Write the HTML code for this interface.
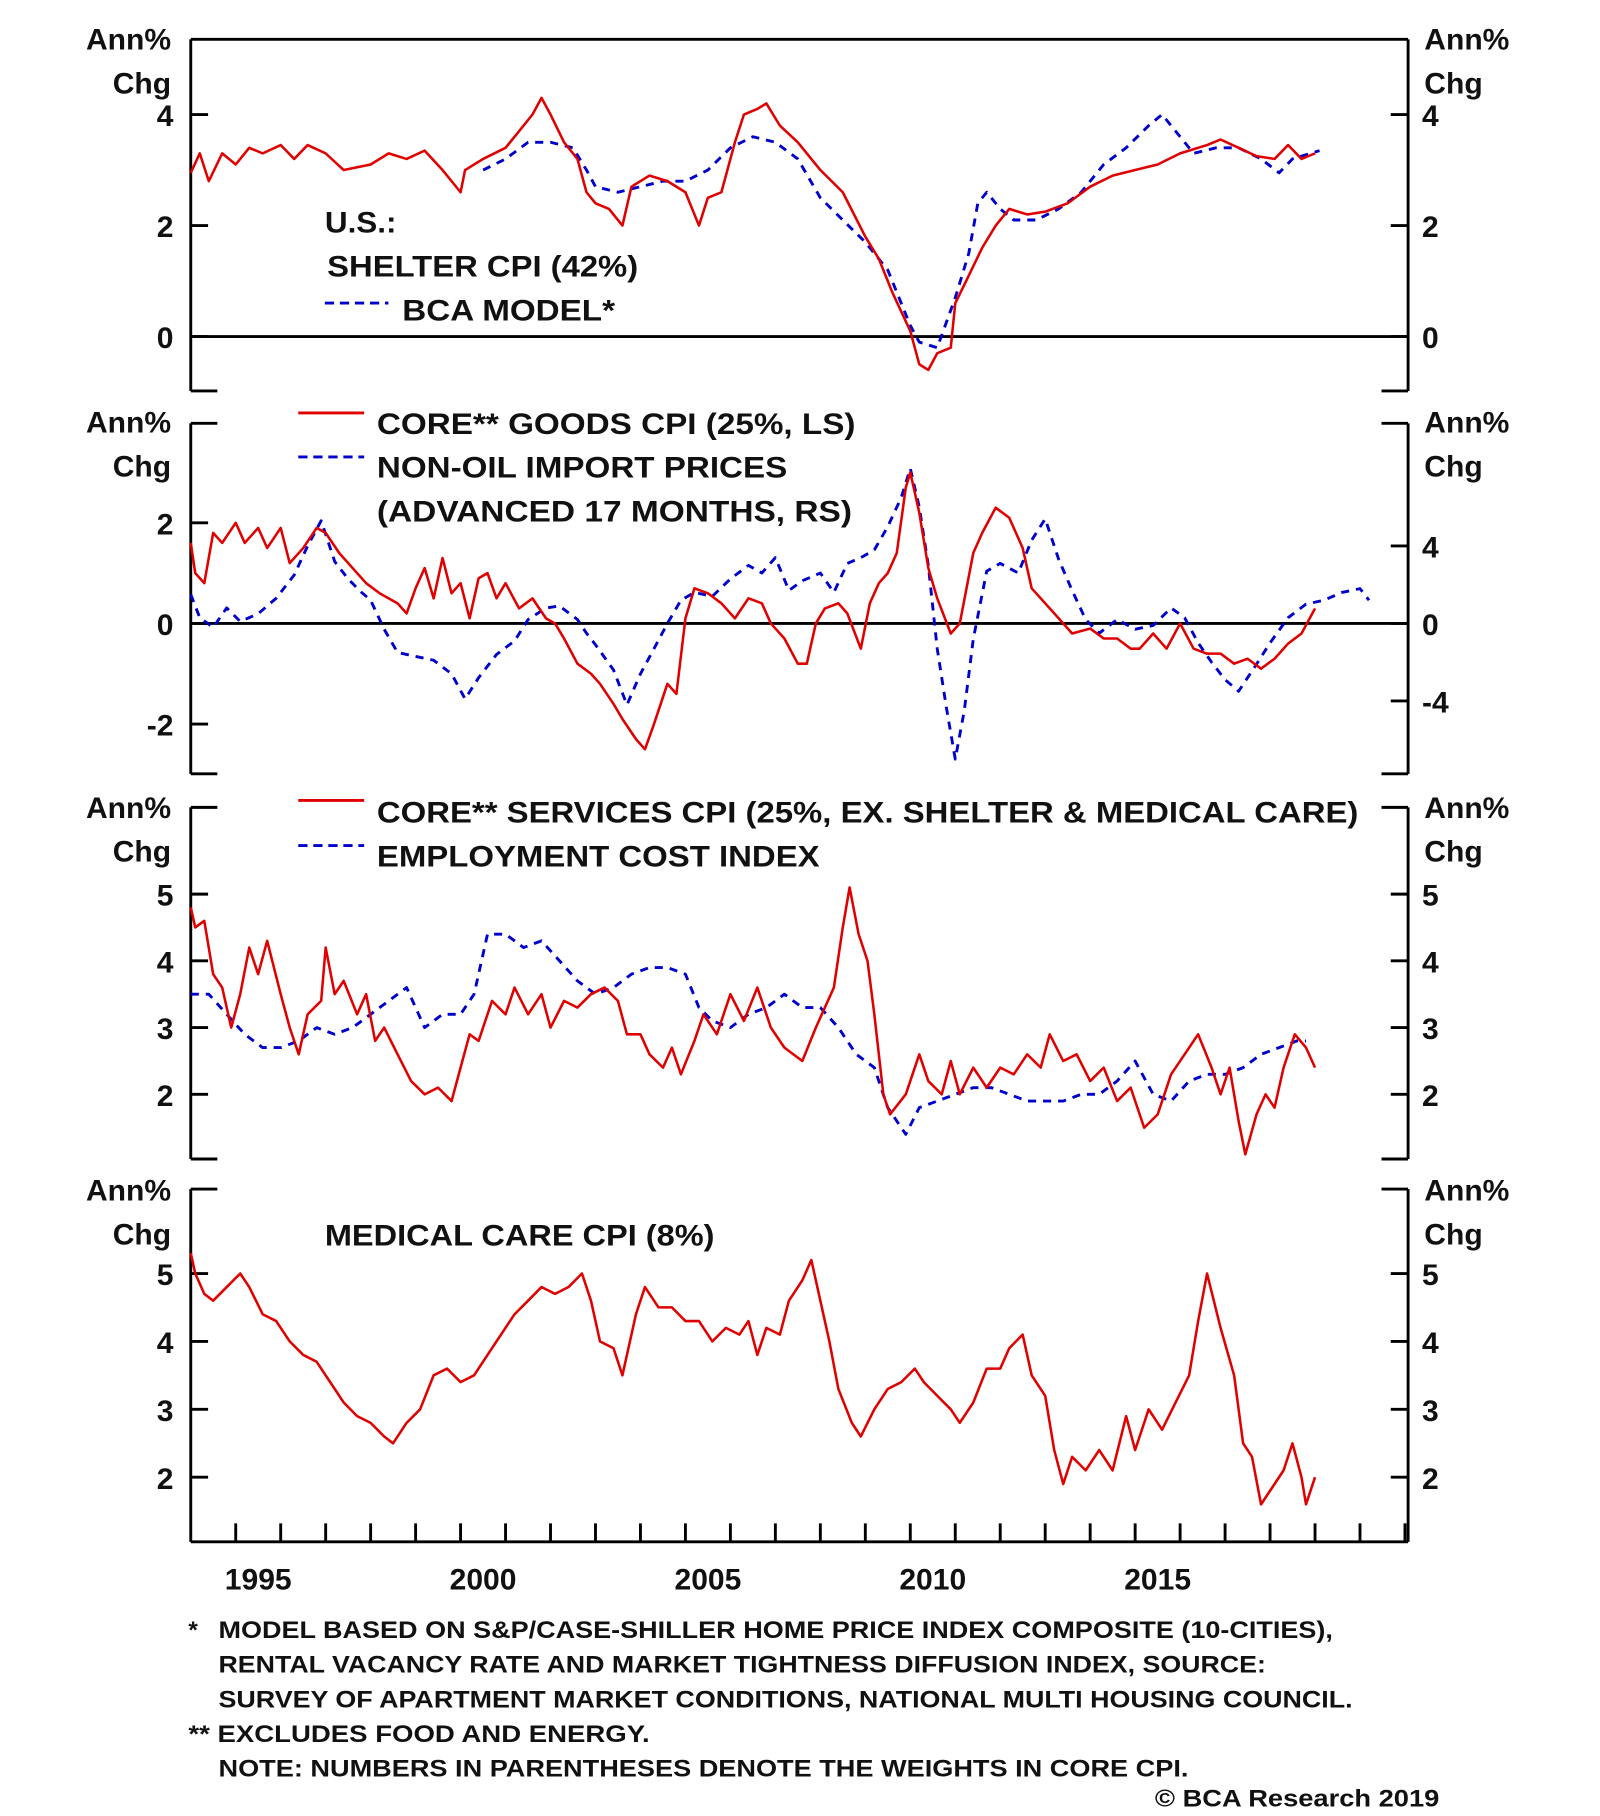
<!DOCTYPE html>
<html><head><meta charset="utf-8"><style>
html,body{margin:0;padding:0;background:#fff;}
svg{display:block;}
text{font-family:"Liberation Sans",sans-serif;font-weight:bold;fill:#111;}
</style></head><body>
<svg id="chart" width="1600" height="1816" viewBox="0 0 1384 1570" preserveAspectRatio="none" xmlns="http://www.w3.org/2000/svg">
<g id="frame"></g>
<g id="series"></g>
<g id="labels">
<text x="281" y="201" font-size="26" textLength="62" lengthAdjust="spacingAndGlyphs">U.S.:</text>
<text x="283" y="239" font-size="26" textLength="269" lengthAdjust="spacingAndGlyphs">SHELTER CPI (42%)</text>
<line x1="281" y1="262" x2="336" y2="262" stroke="#0000cc" stroke-width="2.5" stroke-dasharray="8,5"/>
<text x="348" y="277" font-size="26" textLength="184" lengthAdjust="spacingAndGlyphs">BCA MODEL*</text>
<line x1="258" y1="357" x2="315" y2="357" stroke="#e00000" stroke-width="2.5"/>
<text x="326" y="375" font-size="26" textLength="414" lengthAdjust="spacingAndGlyphs">CORE** GOODS CPI (25%, LS)</text>
<line x1="258" y1="395" x2="315" y2="395" stroke="#0000cc" stroke-width="2.5" stroke-dasharray="8,5"/>
<text x="326" y="413" font-size="26" textLength="355" lengthAdjust="spacingAndGlyphs">NON-OIL IMPORT PRICES</text>
<text x="326" y="451" font-size="26" textLength="411" lengthAdjust="spacingAndGlyphs">(ADVANCED 17 MONTHS, RS)</text>
<line x1="258" y1="692" x2="315" y2="692" stroke="#e00000" stroke-width="2.5"/>
<text x="326" y="711" font-size="26" textLength="849" lengthAdjust="spacingAndGlyphs">CORE** SERVICES CPI (25%, EX. SHELTER &amp; MEDICAL CARE)</text>
<line x1="258" y1="731" x2="315" y2="731" stroke="#0000cc" stroke-width="2.5" stroke-dasharray="8,5"/>
<text x="326" y="749" font-size="26" textLength="383" lengthAdjust="spacingAndGlyphs">EMPLOYMENT COST INDEX</text>
<text x="281" y="1077" font-size="26" textLength="337" lengthAdjust="spacingAndGlyphs">MEDICAL CARE CPI (8%)</text>
<g font-size="21">
<text x="163" y="1416">*</text>
<text x="189" y="1416" textLength="964" lengthAdjust="spacingAndGlyphs">MODEL BASED ON S&amp;P/CASE-SHILLER HOME PRICE INDEX COMPOSITE (10-CITIES),</text>
<text x="189" y="1446" textLength="906" lengthAdjust="spacingAndGlyphs">RENTAL VACANCY RATE AND MARKET TIGHTNESS DIFFUSION INDEX, SOURCE:</text>
<text x="189" y="1476" textLength="981" lengthAdjust="spacingAndGlyphs">SURVEY OF APARTMENT MARKET CONDITIONS, NATIONAL MULTI HOUSING COUNCIL.</text>
<text x="163" y="1506" textLength="399" lengthAdjust="spacingAndGlyphs">** EXCLUDES FOOD AND ENERGY.</text>
<text x="189" y="1536" textLength="839" lengthAdjust="spacingAndGlyphs">NOTE: NUMBERS IN PARENTHESES DENOTE THE WEIGHTS IN CORE CPI.</text>
<text x="999" y="1562" textLength="246" lengthAdjust="spacingAndGlyphs">© BCA Research 2019</text>
</g>
</g>
</svg>
<script>
// ---- data (year, value) ----
const shelterYears=[1994.0,1994.2,1994.4,1994.7,1995,1995.3,1995.6,1996,1996.3,1996.6,1997,1997.4,1998,1998.4,1998.8,1999.2,1999.6,2000.0,2000.1,2000.5,2001,2001.3,2001.6,2001.8,2002.0,2002.3,2002.6,2002.8,2003.0,2003.3,2003.6,2003.8,2004.2,2004.6,2005.0,2005.3,2005.5,2005.8,2006.1,2006.3,2006.6,2006.8,2007.1,2007.5,2008.0,2008.5,2009.0,2009.3,2009.6,2010.0,2010.2,2010.4,2010.6,2010.9,2011.0,2011.3,2011.6,2011.9,2012.2,2012.6,2013,2013.5,2014,2014.5,2015,2015.5,2016,2016.6,2016.9,2017.3,2017.7,2018.1,2018.4,2018.7,2019.0];
const shelterValues=[2.95,3.3,2.8,3.3,3.1,3.4,3.3,3.45,3.2,3.45,3.3,3.0,3.1,3.3,3.2,3.35,3.0,2.6,3.0,3.2,3.4,3.7,4.0,4.3,4.0,3.5,3.2,2.6,2.4,2.3,2.0,2.7,2.9,2.8,2.6,2.0,2.5,2.6,3.5,4.0,4.1,4.2,3.8,3.5,3.0,2.6,1.8,1.4,0.8,0.1,-0.5,-0.6,-0.3,-0.2,0.6,1.1,1.6,2.0,2.3,2.2,2.25,2.4,2.7,2.9,3.0,3.1,3.3,3.45,3.55,3.4,3.25,3.2,3.45,3.2,3.3];
const modelYears=[2000.5,2001,2001.5,2002,2002.5,2002.8,2003.0,2003.5,2004,2004.5,2005,2005.5,2006,2006.5,2007,2007.5,2008,2008.5,2009,2009.5,2010,2010.2,2010.6,2011.0,2011.3,2011.5,2011.7,2012.0,2012.3,2012.8,2013.3,2013.8,2014.3,2014.8,2015.3,2015.6,2016.0,2016.3,2016.8,2017.3,2017.8,2018.2,2018.5,2019.1];
const modelValues=[3.0,3.2,3.5,3.5,3.4,3.0,2.7,2.6,2.7,2.8,2.8,3.0,3.4,3.6,3.5,3.2,2.5,2.1,1.7,1.2,0.2,-0.1,-0.2,0.7,1.5,2.4,2.6,2.3,2.1,2.1,2.3,2.6,3.1,3.4,3.8,4.0,3.6,3.3,3.4,3.4,3.2,2.95,3.2,3.35];
const goodsYears=[1994,1994.1,1994.3,1994.5,1994.7,1995,1995.2,1995.5,1995.7,1996,1996.2,1996.5,1996.8,1997,1997.3,1997.6,1997.9,1998.2,1998.6,1998.8,1999.0,1999.2,1999.4,1999.6,1999.8,2000.0,2000.2,2000.4,2000.6,2000.8,2001.0,2001.3,2001.6,2001.9,2002.1,2002.3,2002.6,2002.9,2003.1,2003.4,2003.6,2003.9,2004.1,2004.3,2004.6,2004.8,2005.0,2005.2,2005.5,2005.8,2006.1,2006.4,2006.7,2006.9,2007.2,2007.5,2007.7,2007.9,2008.1,2008.4,2008.6,2008.9,2009.1,2009.3,2009.5,2009.7,2009.9,2010.0,2010.2,2010.4,2010.6,2010.9,2011.1,2011.4,2011.6,2011.9,2012.2,2012.5,2012.7,2013.0,2013.3,2013.6,2014.0,2014.3,2014.6,2014.9,2015.1,2015.4,2015.7,2016.0,2016.3,2016.6,2016.9,2017.2,2017.5,2017.8,2018.1,2018.4,2018.7,2019.0];
const goodsValues=[1.6,1.0,0.8,1.8,1.6,2.0,1.6,1.9,1.5,1.9,1.2,1.5,1.9,1.8,1.4,1.1,0.8,0.6,0.4,0.2,0.7,1.1,0.5,1.3,0.6,0.8,0.1,0.9,1.0,0.5,0.8,0.3,0.5,0.1,0.0,-0.3,-0.8,-1.0,-1.2,-1.6,-1.9,-2.3,-2.5,-2.0,-1.2,-1.4,0.1,0.7,0.6,0.4,0.1,0.5,0.4,0.0,-0.3,-0.8,-0.8,0.0,0.3,0.4,0.2,-0.5,0.4,0.8,1.0,1.4,2.7,3.0,2.2,1.1,0.5,-0.2,0.0,1.4,1.8,2.3,2.1,1.5,0.7,0.4,0.1,-0.2,-0.1,-0.3,-0.3,-0.5,-0.5,-0.2,-0.5,0.0,-0.5,-0.6,-0.6,-0.8,-0.7,-0.9,-0.7,-0.4,-0.2,0.3];
const importYears=[1994.0,1994.2,1994.5,1994.8,1995.1,1995.5,1995.9,1996.3,1996.6,1996.9,1997.2,1997.5,1997.8,1998.0,1998.3,1998.6,1999.0,1999.4,1999.8,2000.1,2000.4,2000.8,2001.2,2001.5,2001.9,2002.2,2002.6,2002.8,2003.0,2003.4,2003.7,2004.0,2004.3,2004.6,2004.9,2005.2,2005.6,2006.0,2006.4,2006.7,2007.0,2007.3,2007.6,2008.0,2008.3,2008.6,2008.9,2009.2,2009.5,2009.8,2010.0,2010.2,2010.4,2010.6,2010.8,2011.0,2011.2,2011.4,2011.7,2012.0,2012.4,2012.7,2013.0,2013.3,2013.6,2013.9,2014.2,2014.6,2015.0,2015.4,2015.8,2016.1,2016.4,2016.7,2017.0,2017.3,2017.7,2018.0,2018.4,2018.8,2019.2,2019.6,2020.0,2020.2];
const importValues=[1.5,0.3,-0.2,0.8,0.1,0.5,1.3,2.5,4.0,5.3,3.2,2.3,1.6,1.2,-0.3,-1.5,-1.7,-1.9,-2.6,-3.9,-2.8,-1.6,-0.9,0.2,0.8,0.9,0.2,-0.5,-1.1,-2.4,-4.2,-2.6,-1.3,0.0,1.2,1.6,1.4,2.3,3.0,2.6,3.4,1.7,2.2,2.6,1.6,3.1,3.4,3.8,5.0,6.5,8.0,6.0,3.0,-1.3,-4.3,-7.0,-4.5,-0.8,2.7,3.1,2.6,4.3,5.4,3.3,1.7,0.2,-0.5,0.2,-0.3,-0.1,0.8,0.3,-1.0,-2.0,-2.9,-3.5,-2.1,-1.0,0.3,1.0,1.2,1.6,1.8,1.2];
const servicesYears=[1994.0,1994.1,1994.3,1994.5,1994.7,1994.9,1995.1,1995.3,1995.5,1995.7,1996.0,1996.2,1996.4,1996.6,1996.9,1997.0,1997.2,1997.4,1997.7,1997.9,1998.1,1998.3,1998.6,1998.9,1999.2,1999.5,1999.8,2000.0,2000.2,2000.4,2000.7,2001.0,2001.2,2001.5,2001.8,2002.0,2002.3,2002.6,2002.9,2003.2,2003.5,2003.7,2004.0,2004.2,2004.5,2004.7,2004.9,2005.2,2005.4,2005.7,2006.0,2006.3,2006.6,2006.9,2007.2,2007.6,2007.9,2008.3,2008.5,2008.65,2008.85,2009.05,2009.2,2009.4,2009.55,2009.9,2010.2,2010.4,2010.7,2010.9,2011.1,2011.4,2011.7,2012.0,2012.3,2012.6,2012.9,2013.1,2013.4,2013.7,2014.0,2014.3,2014.6,2014.9,2015.2,2015.5,2015.8,2016.1,2016.4,2016.7,2016.9,2017.1,2017.3,2017.45,2017.7,2017.9,2018.1,2018.3,2018.55,2018.8,2019.0];
const servicesValues=[4.8,4.5,4.6,3.8,3.6,3.0,3.5,4.2,3.8,4.3,3.5,3.0,2.6,3.2,3.4,4.2,3.5,3.7,3.2,3.5,2.8,3.0,2.6,2.2,2.0,2.1,1.9,2.4,2.9,2.8,3.4,3.2,3.6,3.2,3.5,3.0,3.4,3.3,3.5,3.6,3.4,2.9,2.9,2.6,2.4,2.7,2.3,2.8,3.2,2.9,3.5,3.1,3.6,3.0,2.7,2.5,3.0,3.6,4.5,5.1,4.4,4.0,3.2,2.0,1.7,2.0,2.6,2.2,2.0,2.5,2.0,2.4,2.1,2.4,2.3,2.6,2.4,2.9,2.5,2.6,2.2,2.4,1.9,2.1,1.5,1.7,2.3,2.6,2.9,2.4,2.0,2.4,1.6,1.1,1.7,2.0,1.8,2.4,2.9,2.7,2.4];
const eciYears=[1994.0,1994.4,1994.8,1995.2,1995.6,1996.0,1996.4,1996.8,1997.2,1997.6,1998.0,1998.4,1998.8,1999.2,1999.6,2000.0,2000.3,2000.6,2001.0,2001.4,2001.8,2002.2,2002.6,2003.0,2003.4,2003.8,2004.2,2004.6,2005.0,2005.3,2005.6,2006.0,2006.4,2006.8,2007.2,2007.6,2008.0,2008.4,2008.8,2009.2,2009.5,2009.9,2010.2,2010.6,2011.0,2011.4,2011.8,2012.2,2012.6,2013.0,2013.4,2013.8,2014.2,2014.6,2015.0,2015.4,2015.8,2016.2,2016.6,2017.0,2017.4,2017.8,2018.2,2018.6,2018.8];
const eciValues=[3.5,3.5,3.2,2.9,2.7,2.7,2.8,3.0,2.9,3.0,3.2,3.4,3.6,3.0,3.2,3.2,3.5,4.4,4.4,4.2,4.3,4.0,3.7,3.5,3.6,3.8,3.9,3.9,3.8,3.3,3.1,3.0,3.2,3.3,3.5,3.3,3.3,3.0,2.6,2.4,1.8,1.4,1.8,1.9,2.0,2.1,2.1,2.0,1.9,1.9,1.9,2.0,2.0,2.2,2.5,2.0,1.9,2.2,2.3,2.3,2.4,2.6,2.7,2.8,2.8];
const medicalYears=[1994.0,1994.1,1994.3,1994.5,1994.8,1995.1,1995.3,1995.6,1995.9,1996.2,1996.5,1996.8,1997.1,1997.4,1997.7,1998.0,1998.3,1998.5,1998.8,1999.1,1999.4,1999.7,2000.0,2000.3,2000.6,2000.9,2001.2,2001.5,2001.8,2002.1,2002.4,2002.7,2002.9,2003.1,2003.4,2003.6,2003.9,2004.1,2004.4,2004.7,2005.0,2005.3,2005.6,2005.9,2006.2,2006.4,2006.6,2006.8,2007.1,2007.3,2007.6,2007.8,2008.0,2008.2,2008.4,2008.7,2008.9,2009.2,2009.5,2009.8,2010.1,2010.3,2010.6,2010.9,2011.1,2011.4,2011.7,2012.0,2012.2,2012.5,2012.7,2013.0,2013.2,2013.4,2013.6,2013.9,2014.2,2014.5,2014.8,2015.0,2015.3,2015.6,2015.9,2016.2,2016.4,2016.6,2016.9,2017.2,2017.4,2017.6,2017.8,2018.0,2018.3,2018.5,2018.7,2018.8,2019.0];
const medicalValues=[5.3,5.0,4.7,4.6,4.8,5.0,4.8,4.4,4.3,4.0,3.8,3.7,3.4,3.1,2.9,2.8,2.6,2.5,2.8,3.0,3.5,3.6,3.4,3.5,3.8,4.1,4.4,4.6,4.8,4.7,4.8,5.0,4.6,4.0,3.9,3.5,4.4,4.8,4.5,4.5,4.3,4.3,4.0,4.2,4.1,4.3,3.8,4.2,4.1,4.6,4.9,5.2,4.6,4.0,3.3,2.8,2.6,3.0,3.3,3.4,3.6,3.4,3.2,3.0,2.8,3.1,3.6,3.6,3.9,4.1,3.5,3.2,2.4,1.9,2.3,2.1,2.4,2.1,2.9,2.4,3.0,2.7,3.1,3.5,4.3,5.0,4.2,3.5,2.5,2.3,1.6,1.8,2.1,2.5,2.0,1.6,2.0];
const leftTicks1=[0,2,4], leftTicks2=[-2,0,2], rightTicks2=[-4,0,4], ticks34=[2,3,4,5];
const yearLabels=[1995,2000,2005,2010,2015];

// ---- scales (display coords) ----
const X0=165, X1=1218, PXY=38.9;
function x(t){return X0+(t-1994)*PXY;}
function y1(v){return 291-48*v;}
function y2L(v){return 539-43.5*v;}
function y2R(v){return 539-16.75*v;}
function y3(v){return 1061.5-57.7*v;}
function y4(v){return 1394.5-58.7*v;}

const NS="http://www.w3.org/2000/svg";
const frame=document.getElementById('frame'), series=document.getElementById('series');
function mk(tag,attrs,parent){const e=document.createElementNS(NS,tag);for(const k in attrs)e.setAttribute(k,attrs[k]);parent.appendChild(e);return e;}
function ln(x1,y1_,x2,y2_,name,w){const e=mk('line',{x1:x1,y1:y1_,x2:x2,y2:y2_,stroke:'#000','stroke-width':w||2.5},frame);

return e;}
function tx(xx,yy,s,anchor,name){const e=mk('text',{x:xx,y:yy,'font-size':26,'text-anchor':anchor},frame);e.textContent=s;

return e;}
function poly(ys,vs,yf,color,dash,name){const pts=ys.map((t,i)=>x(t).toFixed(1)+','+yf(vs[i]).toFixed(1)).join(' ');
const e=mk('polyline',{points:pts,fill:'none',stroke:color,'stroke-width':dash?2.5:2.2,'stroke-dasharray':dash?'7,6':'none','stroke-linejoin':'round'},series);

}

function panel(top,bot,full,leftTicks,yL,rightTicks,yR,annY,name,fullBottom){
  ln(X0,top,X0,bot,name+'-left-axis');ln(X1,top,X1,bot,name+'-right-axis');
  if(full){ln(X0,top,X1,top,name+'-top-border');}else{ln(X0,top,X0+23,top,name+'-top-left-stub');ln(X1-23,top,X1,top,name+'-top-right-stub');}
  if(!fullBottom){ln(X0,bot,X0+23,bot,name+'-bottom-left-stub');ln(X1-23,bot,X1,bot,name+'-bottom-right-stub');}
  tx(148,annY,'Ann%','end',name+'-left-unit');tx(148,annY+38,'Chg','end',name+'-left-unit-2');
  tx(1232,annY,'Ann%','start',name+'-right-unit');tx(1232,annY+38,'Chg','start',name+'-right-unit-2');
  leftTicks.forEach(v=>{const yy=yL(v);ln(X0,yy,X0+15,yy,name+'-left-tick');tx(150,yy+10,String(v),'end',name+'-left-tick-label');});
  rightTicks.forEach(v=>{const yy=yR(v);ln(X1-15,yy,X1,yy,name+'-right-tick');tx(1230,yy+10,String(v),'start',name+'-right-tick-label');});
}
panel(34,338,true,leftTicks1,y1,leftTicks1,y1,43,'shelter-panel',false);
ln(X0,y1(0),X1,y1(0),'shelter-zero-line');
panel(366,669,false,leftTicks2,y2L,rightTicks2,y2R,374,'goods-panel',false);
ln(X0,y2L(0),X1,y2L(0),'goods-zero-line');
panel(698,1002,false,ticks34,y3,ticks34,y3,707,'services-panel',false);
panel(1028,1333,false,ticks34,y4,ticks34,y4,1038,'medical-panel',true);
ln(X0,1333,X1,1333,'x-axis');
for(let yr=1995;yr<=2021;yr++){ln(x(yr),1333,x(yr),1317,'x-axis-tick',2.5);}
yearLabels.forEach(yr=>{tx(x(yr+0.5),1374,String(yr),'middle','x-tick-label');});

poly(modelYears,modelValues,y1,'#0000cc',true,'bca-model-line');
poly(shelterYears,shelterValues,y1,'#e00000',false,'shelter-cpi-line');
poly(importYears,importValues,y2R,'#0000cc',true,'import-prices-line');
poly(goodsYears,goodsValues,y2L,'#e00000',false,'core-goods-line');
poly(eciYears,eciValues,y3,'#0000cc',true,'eci-line');
poly(servicesYears,servicesValues,y3,'#e00000',false,'core-services-line');
poly(medicalYears,medicalValues,y4,'#e00000',false,'medical-care-line');
</script>
</body></html>
